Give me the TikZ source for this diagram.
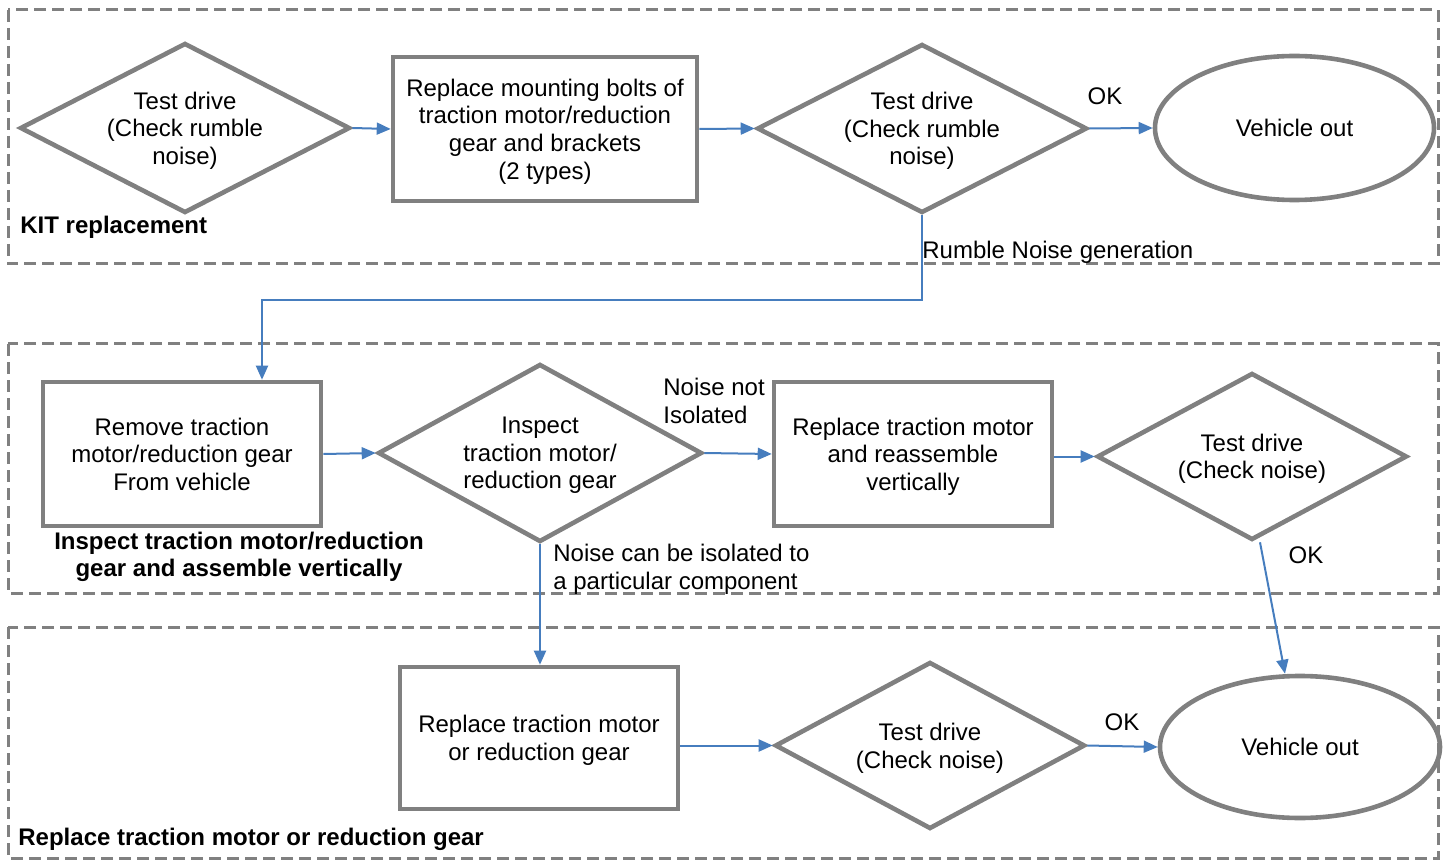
\documentclass[tikz,border=0pt]{standalone}
\usepackage{fontspec}
\setmainfont{Liberation Sans}
\usetikzlibrary{shapes.geometric,arrows.meta}
\definecolor{bord}{RGB}{128,128,128}
\definecolor{arr}{RGB}{70,125,190}
\begin{document}
\begin{tikzpicture}[x=0.5pt,y=-0.5pt,
 every node/.style={font=\fontsize{12}{13.8}\selectfont, inner sep=0pt},
 group/.style={draw=bord, line width=1.5pt, dash pattern=on 6pt off 3pt},
 box/.style={draw=bord, line width=2.3pt, rectangle, align=center, text depth=-3pt},
 dia/.style={draw=bord, line width=2.3pt, diamond, aspect=2, align=center, text depth=-3pt},
 oval/.style={draw=bord, line width=2.3pt, ellipse, align=center},
 flow/.style={draw=arr, line width=1pt, -{Triangle[length=7pt,width=6pt]}},
 glbl/.style={font=\fontsize{12}{13.8}\selectfont\bfseries}]
\useasboundingbox (0,0) rectangle (1446,861);
% groups
\draw[group] (8,10) rectangle (1438,264);
\draw[group] (8,344) rectangle (1438,593);
\draw[group] (8,627) rectangle (1438,858);
% nodes
\node[dia, minimum width=165pt, minimum height=85pt] (d1) at (185,128) {Test drive\\(Check rumble\\noise)};
\node[box, minimum width=152pt, minimum height=72pt] (b1) at (545,129) {Replace mounting bolts of\\traction motor/reduction\\gear and brackets\\(2 types)};
\node[dia, minimum width=165pt, minimum height=84.5pt] (d2) at (922,128.5) {Test drive\\(Check rumble\\noise)};
\node[oval, minimum width=139.5pt, minimum height=72pt] (e1) at (1294.5,128) {Vehicle out};
\node[box, minimum width=139pt, minimum height=72pt] (b2) at (182,454) {Remove traction\\motor/reduction gear\\From vehicle};
\node[dia, minimum width=162pt, minimum height=89pt] (d3) at (540,453) {Inspect\\traction motor/\\reduction gear};
\node[box, minimum width=139pt, minimum height=72pt] (b3) at (913,454) {Replace traction motor\\and reassemble\\vertically};
\node[dia, minimum width=155pt, minimum height=83.5pt] (d4) at (1252,456.5) {Test drive\\(Check noise)};
\node[oval, minimum width=140pt, minimum height=71pt] (e2) at (1300,747) {Vehicle out};
\node[box, minimum width=139pt, minimum height=71pt] (b4) at (539,738) {Replace traction motor\\or reduction gear};
\node[dia, minimum width=155pt, minimum height=83.5pt] (d5) at (930,745.5) {Test drive\\(Check noise)};
% group labels
\node[glbl, anchor=west] (g1) at (20,227) {KIT replacement};
\node[glbl, align=center] (g2) at (239,557) {Inspect traction motor/reduction\\gear and assemble vertically};
\node[glbl, anchor=west] (g3) at (18,839) {Replace traction motor or reduction gear};
% connector labels
\node (ok1) at (1105,96) {OK};
\node[anchor=west] (rn) at (922,252) {Rumble Noise generation};
\node[anchor=west, align=left] (nni) at (663,401) {Noise not\\Isolated};
\node (ok2) at (1306,555) {OK};
\node[anchor=west, align=left] (nci) at (553,569) {Noise can be isolated to\\a particular component};
\node (ok3) at (1122,722) {OK};
% connectors
\coordinate (r1) at (262,300);
\draw[flow] (d1.east) -- (b1.west);
\draw[flow] (b1.east) -- (d2.west);
\draw[flow] (d2.east) -- (e1.west);
\draw[flow] (d2.south) |- (r1) -- (r1 |- b2.north);
\draw[flow] (b2.east) -- (d3.west);
\draw[flow] (d3.east) -- (b3.west);
\draw[flow] (b3.east |- d4.west) -- (d4.west);
\draw[flow] ([xshift=4pt]d4.south) -- ([xshift=-7.5pt]e2.north);
\draw[flow] (d3.south) -- (d3.south |- b4.north);
\draw[flow] (b4.east |- d5.west) -- (d5.west);
\draw[flow] (d5.east) -- (e2.west);
\end{tikzpicture}
\end{document}
